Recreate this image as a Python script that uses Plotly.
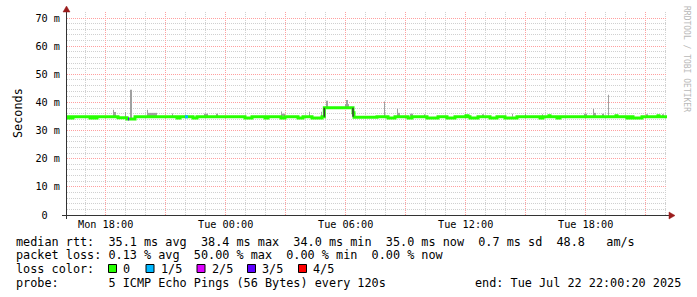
import plotly.graph_objects as go
import pandas as pd

# ---------------- data ----------------
D1 = "2025-07-21 "
D2 = "2025-07-22 "

# median rtt (ms), step series: value holds from time until next time
med_time = [D1 + t for t in ["16:04", "16:07", "16:10", "16:19", "16:22", "17:13", "17:22", "17:31", "17:34",
                             "18:37", "19:04", "19:28", "21:34", "21:43", "22:22", "22:34"]] + \
           [D2 + t for t in ["00:58", "01:19", "01:58", "02:07", "02:46", "02:58", "03:37", "03:52", "04:19",
                             "04:49", "04:56", "06:22", "06:25", "07:34", "08:07", "08:28", "09:07", "09:19",
                             "10:04", "10:37", "11:04", "11:28", "12:01", "12:07", "12:13", "12:37", "13:13",
                             "13:34", "13:58", "14:34", "15:43", "15:52", "16:10", "16:13", "16:34", "16:43",
                             "19:31", "19:34", "20:04", "20:13", "20:22", "20:49", "21:37", "21:40", "22:04"]]
med_rtt = [34.9, 34.5, 34.9, 34.5, 34.9, 34.5, 34.9, 34.5, 34.9,
           34.6, 34.1, 34.9, 34.5, 34.9, 34.5, 34.9,
           34.5, 34.9, 34.5, 34.9, 34.5, 34.9, 34.5, 34.9, 34.5,
           34.9, 38.1, 36.3, 34.7, 34.9, 34.5, 34.9, 34.5, 34.9,
           34.5, 34.9, 34.5, 34.9, 35.3, 34.9, 34.5, 34.9, 34.5,
           34.9, 34.5, 34.9, 34.5, 34.9, 35.3, 34.9, 34.5, 34.9,
           35.3, 34.9, 34.5, 34.9, 34.5, 34.9, 35.3, 34.9, 34.9]

# smoke (spread of the pings): start, end, low, high (ms)
smoke_start = [D1 + t for t in ["18:22", "18:22", "18:58", "19:13", "20:04", "20:07", "21:19", "22:55", "23:31"]] + \
              [D2 + t for t in ["02:46", "02:49", "04:10", "04:46", "05:01", "05:58", "06:01", "07:55", "08:34",
                                "08:34", "09:13", "09:55", "12:49", "14:19", "14:58", "15:49", "17:55", "18:22",
                                "18:22", "18:49", "19:07", "21:01", "21:49"]]
smoke_end = [D1 + t for t in ["18:25", "18:31", "19:01", "19:19", "20:07", "20:34", "21:22", "23:07", "23:37"]] + \
            [D2 + t for t in ["02:49", "02:58", "04:13", "04:49", "05:07", "06:10", "06:07", "07:58", "08:37",
                              "08:43", "09:22", "09:58", "12:55", "14:22", "15:01", "15:52", "18:04", "18:25",
                              "18:31", "18:55", "19:10", "21:07", "21:55"]]
smoke_low = [34.9, 34.9, 34.9, 34.1, 34.9, 34.9, 34.9, 34.9, 34.9,
             34.9, 34.9, 34.9, 34.9, 38.1, 38.1, 38.1, 34.9, 34.9,
             34.9, 34.9, 34.9, 34.9, 34.9, 34.9, 34.9, 34.9, 34.9,
             34.9, 34.9, 34.9, 34.9, 34.9]
smoke_high = [37.4, 36.6, 36.6, 44.5, 37.4, 36.3, 36.1, 36.0, 36.0,
              36.8, 36.0, 36.7, 36.7, 40.6, 39.4, 40.9, 40.3, 37.8,
              36.3, 36.0, 35.8, 35.8, 36.0, 36.0, 35.8, 36.0, 37.8,
              36.3, 36.0, 42.7, 35.8, 35.8]

# steep median changes (drawn dark by the smoke)
edge_time = [D2 + "04:56", D2 + "06:22"]
edge_low = [34.9, 34.9]
edge_high = [38.1, 38.1]

# packet loss episodes
loss_start = [D1 + "19:07", D1 + "21:58"]
loss_end = [D1 + "19:10", D1 + "22:07"]
loss_rtt = [34.1, 34.9]
loss_level = ["3/5", "1/5"]

loss_names = ["0", "1/5", "2/5", "3/5", "4/5"]
loss_colors = {"0": "#26ff00", "1/5": "#00b8ff", "2/5": "#dd00ff", "3/5": "#5e00ff", "4/5": "#ff0000"}

y_ticks = [0, 10, 20, 30, 40, 50, 60, 70]
y_tick_text = ["0\u00a0\u00a0", "10 m", "20 m", "30 m", "40 m", "50 m", "60 m", "70 m"]

x_major = pd.date_range(D1 + "18:00", D2 + "21:00", freq="3h")
x_labels = [d.strftime("%a %H:%M") if d.hour % 6 == 0 else "" for d in x_major]

stats_rtt = "median rtt:  35.1 ms avg  38.4 ms max  34.0 ms min  35.0 ms now  0.7 ms sd  48.8   am/s"
stats_loss = "packet loss: 0.13 % avg  50.00 % max  0.00 % min  0.00 % now"
probe_text = "probe:       5 ICMP Echo Pings (56 Bytes) every 120s"
end_text = "end: Tue Jul 22 22:00:20 2025"

# ---------------- layout geometry ----------------
W, H = 697, 297
ML, MR, MT, MB = 67, 30, 12, 82
PW = W - ML - MR
PH = H - MT - MB
X_RANGE = [D1 + "16:04", D2 + "22:04"]
Y_MAX = PH / 2.814

MONO = "DejaVu Sans Mono"
LEG = 11.82
AX = 10.2


def px(x):
    return (x - ML) / PW


def py(y):
    return (H - MB - y) / PH


def nb(s):
    return s.replace(" ", "\u00a0")


fig = go.Figure()

# smoke
s0 = pd.to_datetime(smoke_start)
s1 = pd.to_datetime(smoke_end)
centers = s0 + (s1 - s0) / 2
widths = [(b - a).total_seconds() * 1000 for a, b in zip(s0, s1)]
fig.add_trace(go.Bar(
    x=centers, y=[h - l for h, l in zip(smoke_high, smoke_low)], base=smoke_low,
    width=widths, marker=dict(color="#a0a0a0", line=dict(width=0)),
    showlegend=False, hoverinfo="skip"))

# median line (0 loss)
fig.add_trace(go.Scatter(
    x=med_time, y=med_rtt, mode="lines", line=dict(color=loss_colors["0"], width=3, shape="hv"),
    showlegend=False, hoverinfo="skip"))

# loss coloured pieces
for a, b, r, lv in zip(loss_start, loss_end, loss_rtt, loss_level):
    fig.add_trace(go.Scatter(
        x=[a, b], y=[r, r], mode="lines", line=dict(color=loss_colors[lv], width=3),
        showlegend=False, hoverinfo="skip"))

# dark edges
ex, ey = [], []
for t, lo, hi in zip(edge_time, edge_low, edge_high):
    ex += [t, t, None]
    ey += [lo, hi, None]
fig.add_trace(go.Scatter(x=ex, y=ey, mode="lines", line=dict(color="#3a3a3a", width=1.5),
                         showlegend=False, hoverinfo="skip"))

GRID_MIN = "#d0d0d0"
GRID_MAJ = "#ff9f9f"
DASH = "1px,1px"

fig.update_xaxes(
    range=X_RANGE, type="date",
    tickvals=x_major, ticktext=x_labels,
    showgrid=True, gridcolor=GRID_MAJ, griddash=DASH, gridwidth=1,
    minor=dict(dtick=3600000, tick0=D1 + "00:00", showgrid=True, gridcolor=GRID_MIN, griddash=DASH, gridwidth=1),
    showline=False, zeroline=False, ticks="",
    tickfont=dict(family=MONO, size=AX, color="#000"),
    ticklabelstandoff=2,
)
fig.update_yaxes(
    range=[0, Y_MAX],
    tickvals=y_ticks, ticktext=y_tick_text,
    showgrid=True, gridcolor=GRID_MAJ, griddash=DASH, gridwidth=1,
    minor=dict(dtick=2, tick0=0, showgrid=True, gridcolor=GRID_MIN, griddash=DASH, gridwidth=1),
    showline=False, zeroline=False, ticks="",
    tickfont=dict(family=MONO, size=AX, color="#000"),
    ticklabelstandoff=6,
)

AXC = "#333333"
ARR = "#9b1c1c"
shapes = [
    # axes
    dict(type="line", xref="paper", yref="paper", x0=px(62), x1=px(670), y0=py(215.5), y1=py(215.5),
         line=dict(color=AXC, width=1)),
    dict(type="line", xref="paper", yref="paper", x0=px(66.5), x1=px(66.5), y0=py(219), y1=py(11),
         line=dict(color=AXC, width=1)),
    # arrows
    dict(type="path", xref="paper", yref="paper",
         path=f"M {px(669)} {py(212)} L {px(675)} {py(215.5)} L {px(669)} {py(219)} Z",
         fillcolor=ARR, line=dict(color=ARR, width=0.5)),
    dict(type="path", xref="paper", yref="paper",
         path=f"M {px(63)} {py(12)} L {px(66.5)} {py(6)} L {px(70)} {py(12)} Z",
         fillcolor=ARR, line=dict(color=ARR, width=0.5)),
]

annotations = []


def ann(text, x, y, size=LEG, xanchor="left", angle=0, color="#000"):
    annotations.append(dict(text=nb(text), x=px(x), y=py(y), xref="paper", yref="paper",
                            xanchor=xanchor, yanchor="middle", showarrow=False, textangle=angle,
                            borderpad=0, borderwidth=0,
                            font=dict(family=MONO, size=size, color=color)))


ann(stats_rtt, 16, 241.5)
ann(stats_loss, 16, 255.3)
ann("loss color:", 16, 269)
ann(probe_text, 16, 282.8)
ann(end_text, 681, 282.8, xanchor="right")

box_x = [108, 145.5, 196.5, 247, 298]
for name, bx in zip(loss_names, box_x):
    shapes.append(dict(type="rect", xref="paper", yref="paper", x0=px(bx + 0.5), x1=px(bx + 8.5),
                       y0=py(272.5), y1=py(264.5), fillcolor=loss_colors[name],
                       line=dict(color="#000", width=1)))
    ann(name, bx + 15, 269)

ann("Seconds", 11, 113, angle=-90)
annotations.append(dict(text=nb("RRDTOOL / TOBI OETIKER"), x=px(687), y=py(59), xref="paper", yref="paper",
                        xanchor="center", yanchor="middle", showarrow=False, textangle=90,
                        font=dict(family=MONO, size=8, color="#b8b8b8")))

fig.update_layout(
    width=W, height=H,
    margin=dict(l=ML, r=MR, t=MT, b=MB, pad=0),
    paper_bgcolor="white", plot_bgcolor="white",
    showlegend=False, barmode="overlay",
    shapes=shapes, annotations=annotations,
    hovermode=False,
)

fig.write_html("out.html")
